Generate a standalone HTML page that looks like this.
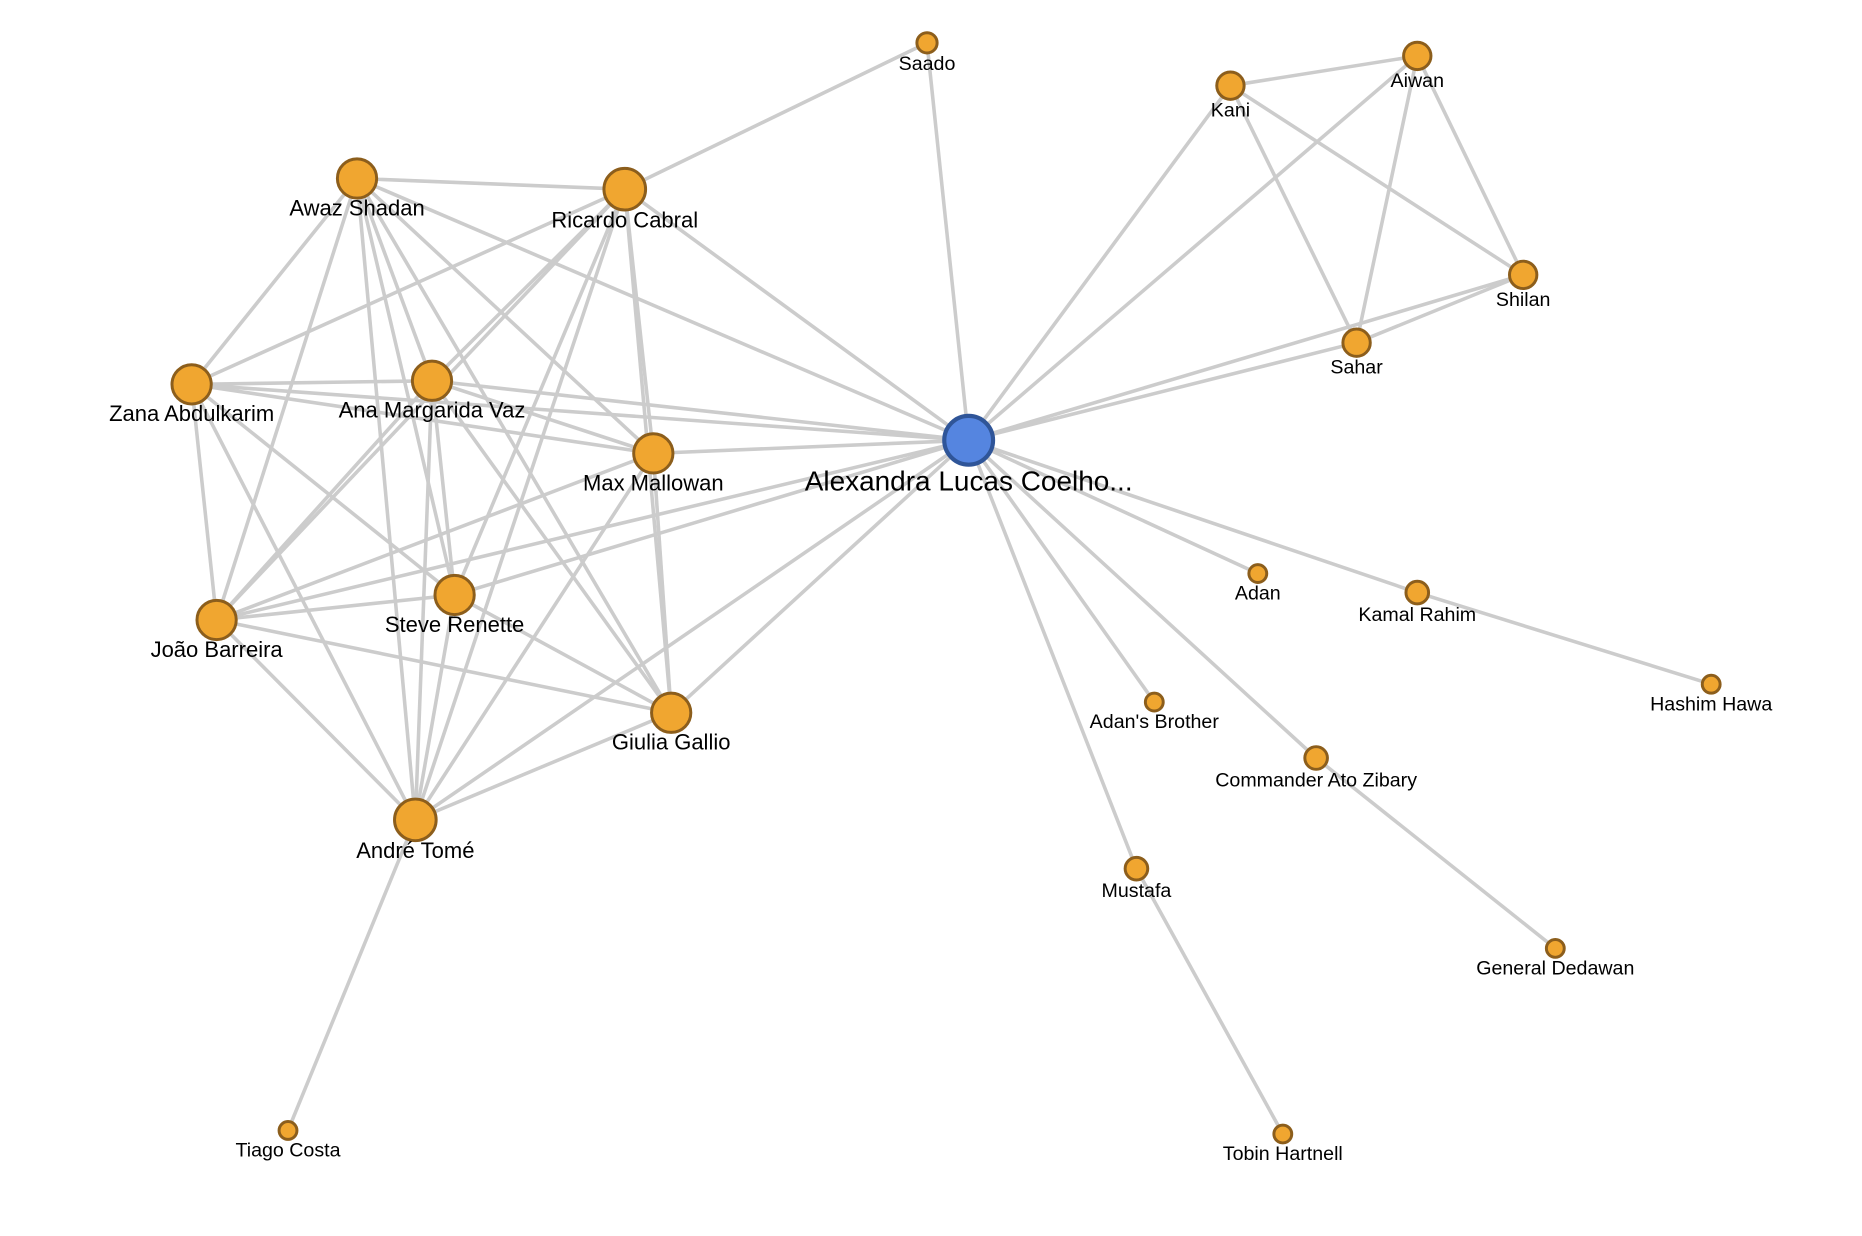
<!DOCTYPE html>
<html><head><meta charset="utf-8"><style>html,body{margin:0;padding:0;background:#fff;}svg{display:block}</style></head>
<body>
<svg width="1862" height="1236" viewBox="0 0 1564.7 1038.7" xmlns="http://www.w3.org/2000/svg" font-family="Liberation Sans, Arial, sans-serif">
<g id="edges" stroke="#cccccc" stroke-width="3" fill="none"></g>
<g id="nodes"></g>
<g id="labels" fill="#000" text-anchor="middle"></g>
<script>
var N={
C:[814,370,22,"Alexandra Lucas Coelho...",1],
Saado:[779,36,10,"Saado"],Kani:[1034,72,13,"Kani"],Aiwan:[1191,47,13,"Aiwan"],Shilan:[1280,231,13,"Shilan"],Sahar:[1140,288,13,"Sahar"],
Awaz:[300,150,18,"Awaz Shadan"],Ric:[525,159,19,"Ricardo Cabral"],Zana:[161,323,18,"Zana Abdulkarim"],Ana:[363,320,18,"Ana Margarida Vaz"],
Max:[549,381,18,"Max Mallowan"],Steve:[382,500,18,"Steve Renette"],Joao:[182,521,18,"João Barreira"],Giu:[564,599,18,"Giulia Gallio"],
Andre:[349,689,19,"André Tomé"],Tiago:[242,950,9,"Tiago Costa"],Adan:[1057,482,9,"Adan"],Kamal:[1191,498,11,"Kamal Rahim"],
Hashim:[1438,575,9,"Hashim Hawa"],AdanB:[970,590,9,"Adan's Brother"],Cmd:[1106,637,11,"Commander Ato Zibary"],Mus:[955,730,11,"Mustafa"],
Gen:[1307,797,9,"General Dedawan"],Tobin:[1078,953,9,"Tobin Hartnell"]};
var E="C-Saado C-Kani C-Aiwan C-Shilan C-Sahar C-Awaz C-Ric C-Zana C-Ana C-Max C-Steve C-Joao C-Giu C-Andre C-Adan C-Kamal C-AdanB C-Cmd C-Mus Kani-Aiwan Kani-Sahar Kani-Shilan Aiwan-Sahar Aiwan-Shilan Shilan-Sahar Saado-Ric Kamal-Hashim Cmd-Gen Mus-Tobin Andre-Tiago Awaz-Ric Awaz-Zana Awaz-Joao Awaz-Ana Awaz-Steve Awaz-Andre Awaz-Max Awaz-Giu Ric-Zana Ric-Ana Ric-Joao Ric-Steve Ric-Max Ric-Giu Ric-Andre Zana-Ana Zana-Max Zana-Joao Zana-Steve Zana-Andre Ana-Max Ana-Joao Ana-Steve Ana-Andre Ana-Giu Max-Joao Max-Andre Max-Giu Joao-Steve Joao-Giu Joao-Andre Steve-Giu Steve-Andre Giu-Andre".split(" ");
var ns="http://www.w3.org/2000/svg";
function el(t,a,p){var e=document.createElementNS(ns,t);for(var k in a)e.setAttribute(k,a[k]);p.appendChild(e);return e;}
var ge=document.getElementById("edges"),gn=document.getElementById("nodes"),gl=document.getElementById("labels");
E.forEach(function(s){var p=s.split("-"),a=N[p[0]],b=N[p[1]];el("line",{x1:a[0],y1:a[1],x2:b[0],y2:b[1]},ge);});
for(var k in N){var n=N[k];var c=n[4];
el("circle",{cx:n[0],cy:n[1],r:n[2]-1.5,fill:c?"#5585e0":"#f0a630","stroke":c?"#2f5598":"#8c5e1c","stroke-width":c?3.5:2.5},gn);
var t=el("text",{x:n[0],y:n[1]+n[2]+(c?20:13),"font-size":c?23.5:(n[2]>15?18.5:16.5)},gl);t.textContent=n[3];}
</script>
</svg>
</body></html>
